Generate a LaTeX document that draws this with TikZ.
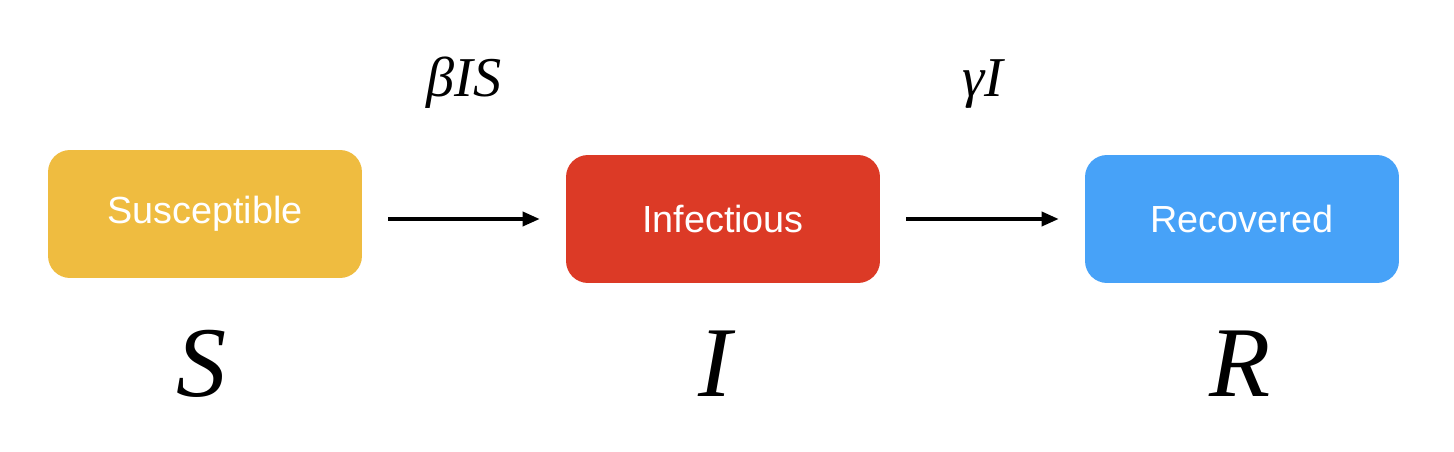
\documentclass[tikz,border=0pt]{standalone}
\usepackage{fontspec}
\setmainfont{Liberation Serif}
\newfontfamily\boxfont{Liberation Sans}
\usepackage{tikz}
\usetikzlibrary{arrows.meta,positioning}
\definecolor{susyellow}{HTML}{EFBC40}
\definecolor{infred}{HTML}{DC3A26}
\definecolor{recblue}{HTML}{47A2F8}
\tikzset{
  compbox/.style={ rounded corners=0.44cm, minimum width=6.28cm, minimum height=2.56cm, text=white, font=\boxfont\fontsize{21.5}{25}\selectfont }
}
\tikzset{
  bigletter/.style={ font=\fontsize{57}{60}\selectfont\itshape }
}
\tikzset{
  rate/.style={ font=\fontsize{32}{36}\selectfont\itshape }
}
\tikzset{
  flow/.style={ -{Triangle[length=0.34cm, width=0.28cm]}, line width=2pt, shorten <=0.52cm, shorten >=0.52cm }
}

\begin{document}
\begin{tikzpicture}[x=0.02cm, y=-0.02cm]
      \useasboundingbox (0, 0) rectangle (1454, 452);
      \node[compbox, fill=susyellow] (sus) at (205, 214) {Susceptible};
      \node[compbox, fill=infred] (inf) at (723, 219) {Infectious};
      \node[compbox, fill=recblue] (rec) at (1242, 219) {Recovered};
      \node[bigletter] (S) at (202, 364) {S};
      \node[bigletter] (I) at (715, 364) {I};
      \node[bigletter] (R) at (1240, 364) {R};
      \draw[flow] (sus.east |- inf.west) -- (inf.west) node[midway, above=2.05cm, rate] (si) {βIS};
      \draw[flow] (inf.east) -- (rec.west) node[midway, above=2.05cm, rate] (ir) {γI};
    \end{tikzpicture}
\end{document}
